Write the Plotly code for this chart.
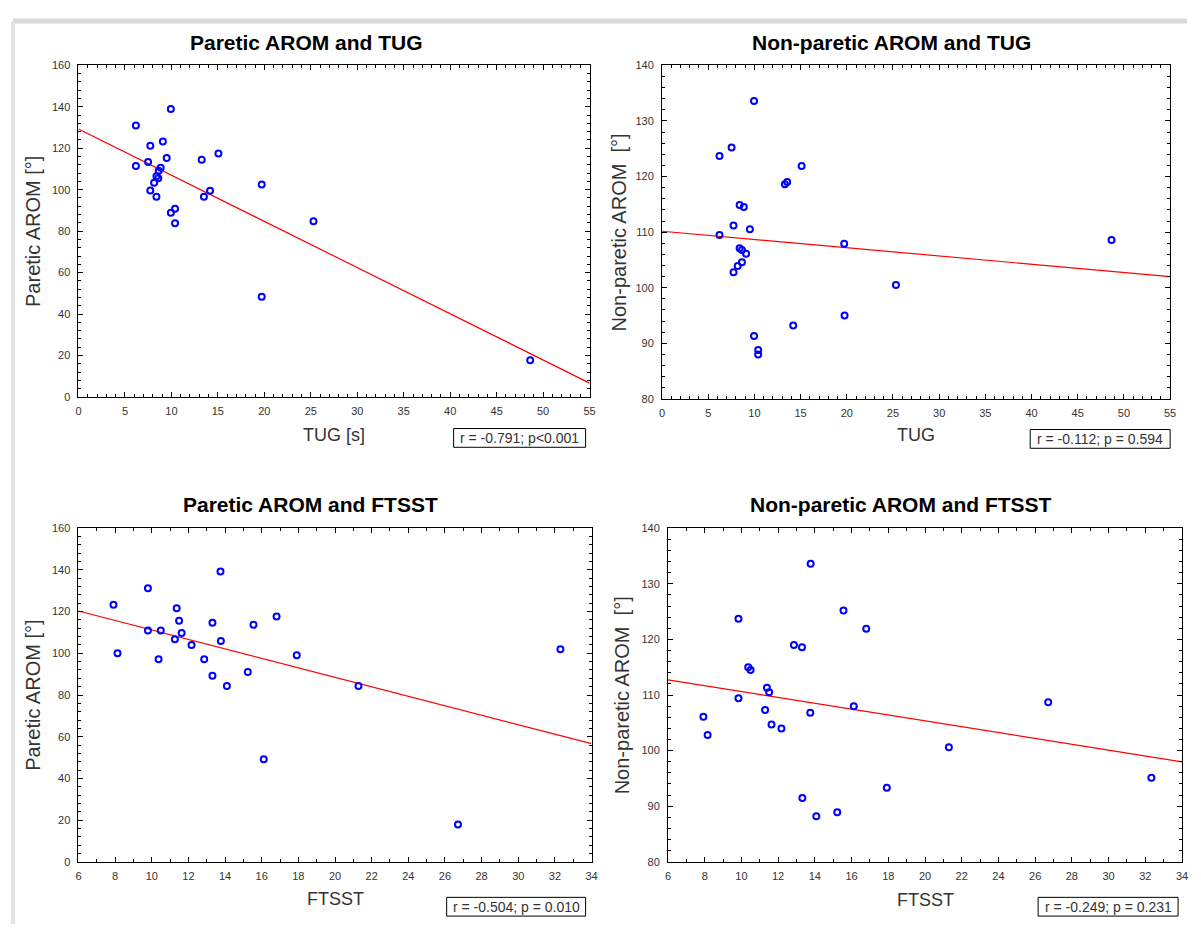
import numpy as np
import plotly.graph_objects as go

# page is 1201x938; the html body has an 8px margin, so the figure is 16px smaller
PAGE_W, PAGE_H = 1201, 938
BODY_MARGIN = 8
W, H = PAGE_W - 2 * BODY_MARGIN, PAGE_H - 2 * BODY_MARGIN

# ---------------- data ----------------
# Panel 1: Paretic AROM vs TUG
tug_1 = [6.18, 9.94, 7.73, 9.08, 9.49, 7.49, 6.18, 13.26, 15.06, 8.84, 8.63, 8.39, 8.59,
         8.14, 7.73, 8.39, 14.16, 13.50, 19.72, 10.39, 9.94, 10.39, 25.29, 19.72, 48.61]
arom_1 = [131.0, 138.9, 121.2, 123.2, 115.3, 113.4, 111.4, 114.4, 117.4, 110.6, 109.1, 106.5, 105.5,
          103.4, 99.6, 96.6, 99.5, 96.6, 102.5, 90.8, 88.9, 83.8, 84.8, 48.3, 17.7]

# Panel 2: Non-paretic AROM vs TUG
tug_2 = [9.96, 7.53, 6.22, 15.11, 13.55, 13.30, 8.40, 8.85, 7.74, 9.51, 6.22, 19.72, 48.66,
         8.40, 8.65, 9.10, 8.65, 8.19, 7.74, 25.32, 19.76, 14.20, 9.96, 10.41, 10.41]
arom_2 = [133.6, 125.2, 123.7, 121.9, 119.0, 118.6, 114.9, 114.5, 111.2, 110.5, 109.5, 107.9, 108.6,
          107.1, 106.8, 106.1, 104.6, 103.9, 102.8, 100.5, 95.0, 93.2, 91.3, 88.8, 88.0]

# Panel 3: Paretic AROM vs FTSST
ftsst_3 = [7.91, 8.13, 9.79, 9.79, 10.37, 10.49, 11.26, 11.36, 11.49, 11.63, 12.17, 12.86, 13.31,
           13.31, 13.75, 13.77, 14.10, 15.24, 15.55, 16.11, 16.81, 17.91, 21.28, 26.71, 32.30]
arom_3 = [123.3, 100.0, 131.2, 110.9, 97.1, 110.9, 106.8, 121.6, 115.6, 109.8, 104.0, 97.1, 114.7,
          89.2, 139.2, 105.9, 84.3, 91.1, 113.7, 49.2, 117.7, 99.1, 84.3, 17.9, 101.9]

# Panel 4: Non-paretic AROM vs FTSST
ftsst_4 = [13.77, 15.56, 9.84, 16.80, 12.86, 13.30, 10.37, 10.50, 11.39, 11.51, 9.84, 16.12, 26.71,
           11.29, 13.75, 7.93, 11.64, 12.18, 8.16, 21.30, 32.33, 17.92, 13.32, 15.22, 14.08]
arom_4 = [133.6, 125.2, 123.7, 121.9, 119.0, 118.6, 115.0, 114.5, 111.3, 110.5, 109.4, 108.0, 108.7,
          107.3, 106.8, 106.1, 104.7, 104.0, 102.8, 100.6, 95.1, 93.3, 91.5, 88.9, 88.2]

titles = ["Paretic AROM and TUG", "Non-paretic AROM and TUG",
          "Paretic AROM and FTSST", "Non-paretic AROM and FTSST"]
x_titles = ["TUG [s]", "TUG", "FTSST", "FTSST"]
y_titles = ["Paretic AROM [°]", "Non-paretic AROM  [°]", "Paretic AROM [°]", "Non-paretic AROM  [°]"]
stats = ["r = -0.791; p<0.001", "r = -0.112; p = 0.594", "r = -0.504; p = 0.010", "r = -0.249; p = 0.231"]
x_ranges = [[0, 55], [0, 55], [6, 34], [6, 34]]
y_ranges = [[0, 160], [80, 140], [0, 160], [80, 140]]
x_dticks = [5, 5, 2, 2]
y_dticks = [20, 10, 20, 10]
x_minor = [1, 1, 1, 1]
y_minor = [4, 2, 4, 2]

xs = [tug_1, tug_2, ftsst_3, ftsst_4]
ys = [arom_1, arom_2, arom_3, arom_4]

# ---------------- layout (page-pixel boxes of plot areas) ----------------
boxes = [  # x0, x1, ytop, ybottom
    (76, 591, 60, 396),
    (664, 1176, 60, 398),
    (76, 593, 529, 867),
    (670, 1188, 529, 867),
]
title_pos = [(306, 37), (895, 37), (310, 505), (905, 505)]
ytitle_x = [30, 621, 30, 624]
xtitle_y = [435, 435, 905, 906]
stat_boxes = [  # x0, x1, y0, y1
    (454, 587, 428, 447),
    (1035, 1176, 429, 448),
    (447, 587, 903, 922),
    (1043, 1184, 903, 922),
]


def px(x):
    return (x - BODY_MARGIN) / W


def py(y):
    return 1 - (y - BODY_MARGIN) / H


FONT = "Liberation Sans, Arial, sans-serif"
fig = go.Figure()
layout = dict(
    width=W, height=H, autosize=False,
    margin=dict(l=0, r=0, t=0, b=0),
    paper_bgcolor="white", plot_bgcolor="white",
    showlegend=False,
    font=dict(family=FONT, color="#333333"),
)
annotations = []
shapes = []

for i in range(4):
    n = "" if i == 0 else str(i + 1)
    xa, ya = "x" + n, "y" + n
    x = np.array(xs[i], dtype=float)
    y = np.array(ys[i], dtype=float)
    slope, intercept = np.polyfit(x, y, 1)
    lx = np.array(x_ranges[i], dtype=float)
    fig.add_trace(go.Scatter(x=lx, y=intercept + slope * lx, mode="lines",
                             line=dict(color="#ff0000", width=1.2),
                             xaxis=xa, yaxis=ya, hoverinfo="skip"))
    fig.add_trace(go.Scatter(x=x, y=y, mode="markers",
                             marker=dict(symbol="circle-open", size=6, color="#0000ff",
                                         line=dict(width=2, color="#0000ff")),
                             xaxis=xa, yaxis=ya))
    x0, x1, yt, yb = boxes[i]
    common = dict(showline=True, linecolor="black", linewidth=1, mirror="allticks",
                  ticks="inside", ticklen=5, tickcolor="black", showgrid=False,
                  zeroline=False, tickfont=dict(family=FONT, size=11, color="#333333"))
    layout["xaxis" + n] = dict(common, domain=[px(x0), px(x1)], range=x_ranges[i],
                               dtick=x_dticks[i], tick0=0, anchor=ya,
                               minor=dict(ticks="inside", ticklen=3, dtick=x_minor[i],
                                          tickcolor="black", showgrid=False),
                               ticklabelstandoff=4)
    layout["yaxis" + n] = dict(common, domain=[py(yb), py(yt)], range=y_ranges[i],
                               dtick=y_dticks[i], tick0=0, anchor=xa,
                               minor=dict(ticks="inside", ticklen=3, dtick=y_minor[i],
                                          tickcolor="black", showgrid=False),
                               ticklabelstandoff=5)
    # panel title
    tx, ty = title_pos[i]
    annotations.append(dict(text="<b>" + titles[i] + "</b>", x=px(tx), y=py(ty),
                            xref="paper", yref="paper", showarrow=False,
                            xanchor="center", yanchor="middle",
                            font=dict(family=FONT, size=21, color="#000000")))
    # axis titles
    annotations.append(dict(text=x_titles[i], x=px((x0 + x1) / 2), y=py(xtitle_y[i]),
                            xref="paper", yref="paper", showarrow=False,
                            xanchor="center", yanchor="middle",
                            font=dict(family=FONT, size=18, color="#333333")))
    annotations.append(dict(text=y_titles[i], x=px(ytitle_x[i]), y=py((yt + yb) / 2),
                            xref="paper", yref="paper", showarrow=False, textangle=-90,
                            xanchor="center", yanchor="middle",
                            font=dict(family=FONT, size=20, color="#333333")))
    # stats box
    bx0, bx1, by0, by1 = stat_boxes[i]
    shapes.append(dict(type="rect", xref="paper", yref="paper",
                       x0=px(bx0), x1=px(bx1), y0=py(by1), y1=py(by0),
                       line=dict(color="black", width=1), fillcolor="white", layer="below"))
    annotations.append(dict(text=stats[i], x=px((bx0 + bx1) / 2), y=py((by0 + by1) / 2),
                            xref="paper", yref="paper", showarrow=False,
                            xanchor="center", yanchor="middle",
                            font=dict(family=FONT, size=14, color="#333333")))

# card shadow edges (top and left)
shapes.append(dict(type="line", xref="paper", yref="paper", x0=px(10), x1=1, y0=py(15), y1=py(15),
                   line=dict(color="#d9d9d9", width=5)))
shapes.append(dict(type="line", xref="paper", yref="paper", x0=px(10), x1=px(10), y0=py(15), y1=0,
                   line=dict(color="#e3e3e3", width=4)))

layout["annotations"] = annotations
layout["shapes"] = shapes
fig.update_layout(**layout)
fig.write_html("out.html")
